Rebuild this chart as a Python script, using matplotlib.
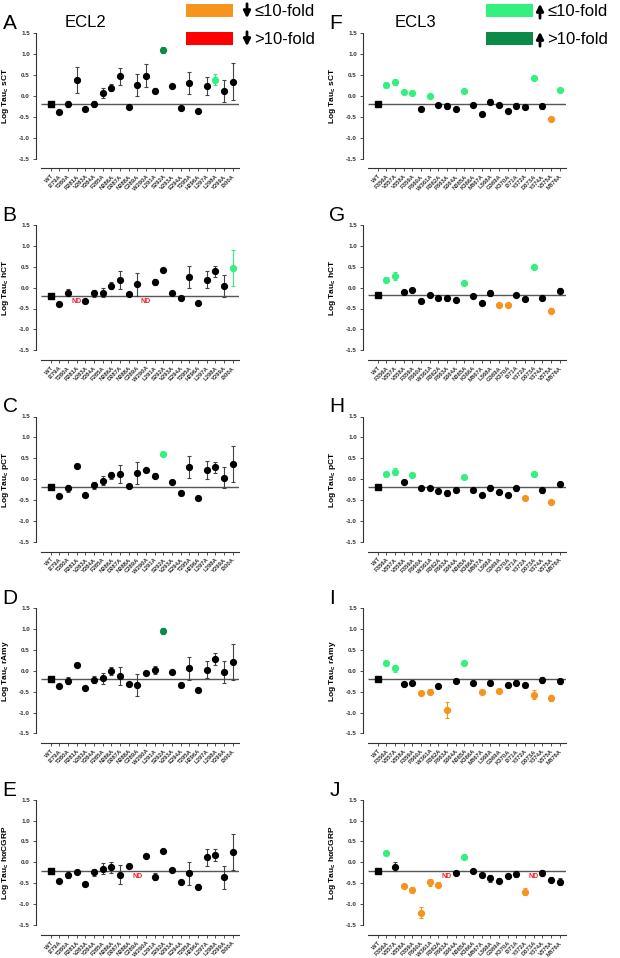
import matplotlib
matplotlib.use("Agg")
import matplotlib.pyplot as plt
from matplotlib.patches import Rectangle, FancyArrowPatch

plt.rcParams["font.family"] = ["Liberation Sans", "DejaVu Sans"]

# x categories
ecl2_labels = ["WT", "I279A", "T280A", "R281A", "V283A", "Y284A", "F285A", "N286A",
               "D287A", "N288A", "C289A", "W290A", "L291A", "S292A", "V293A", "E294A",
               "T295A", "H296A", "L297A", "L298A", "Y299A", "I300A"]
ecl3_labels = ["WT", "F356A", "V357A", "V358A", "F359A", "P360A", "W361A", "R362A",
               "P363A", "S364A", "N365A", "K366A", "M367A", "L368A", "G369A", "K370A",
               "I371A", "Y372A", "D373A", "Y374A", "V375A", "M376A"]

agonists = ["sCT", "hCT", "pCT", "rAmy", "h\u03b1CGRP"]

# log tau_c values (None = ND), SEM and fold-change class
# k = no change, u = up <=10-fold, U = up >10-fold, d = down <=10-fold, D = down >10-fold
a_vals = [-0.18, -0.38, -0.19, 0.38, -0.30, -0.20, 0.08, 0.20, 0.47, -0.26, 0.27,
          0.49, 0.13, 1.10, 0.24, -0.28, 0.31, -0.35, 0.24, 0.39, 0.12, 0.34]
a_errs = [0.03, 0.02, 0.08, 0.31, 0.02, 0.07, 0.12, 0.09, 0.20, 0.02, 0.26,
          0.27, 0.05, 0.08, 0.02, 0.02, 0.26, 0.02, 0.21, 0.13, 0.27, 0.44]
a_cls = "kkkkkkkkkkkkkUkkkkkukk"

b_vals = [-0.19, -0.40, -0.12, None, -0.33, -0.14, -0.12, 0.05, 0.18, -0.16, 0.08,
          None, 0.13, 0.41, -0.14, -0.24, 0.25, -0.36, 0.19, 0.39, 0.04, 0.48]
b_errs = [0.03, 0.02, 0.08, 0, 0.02, 0.08, 0.11, 0.09, 0.22, 0.02, 0.27,
          0, 0.07, 0.02, 0.02, 0.02, 0.26, 0.02, 0.21, 0.13, 0.27, 0.43]
b_cls = "kkkkkkkkkkkkkkkkkkkkku"

c_vals = [-0.18, -0.39, -0.22, 0.31, -0.38, -0.15, -0.04, 0.09, 0.12, -0.16, 0.15,
          0.22, 0.08, 0.60, -0.06, -0.33, 0.29, -0.44, 0.22, 0.28, 0.04, 0.37]
c_errs = [0.03, 0.02, 0.08, 0.02, 0.02, 0.09, 0.11, 0.09, 0.22, 0.02, 0.26,
          0.02, 0.06, 0.02, 0.02, 0.02, 0.26, 0.02, 0.21, 0.13, 0.26, 0.43]
c_cls = "kkkkkkkkkkkkkukkkkkkkk"

d_vals = [-0.19, -0.37, -0.24, 0.14, -0.40, -0.21, -0.18, 0.00, -0.12, -0.32, -0.34,
          -0.05, 0.02, 0.95, -0.04, -0.34, 0.06, -0.45, 0.03, 0.28, -0.03, 0.22]
d_errs = [0.03, 0.02, 0.08, 0.02, 0.02, 0.09, 0.13, 0.09, 0.22, 0.02, 0.27,
          0.02, 0.09, 0.07, 0.02, 0.02, 0.27, 0.04, 0.20, 0.15, 0.27, 0.43]
d_cls = "kkkkkkkkkkkkkUkkkkkkkk"

e_vals = [-0.20, -0.44, -0.29, -0.22, -0.51, -0.24, -0.15, -0.12, -0.29, -0.08, None,
          0.15, -0.34, 0.27, -0.19, -0.46, -0.26, -0.58, 0.12, 0.17, -0.36, 0.24]
e_errs = [0.03, 0.04, 0.08, 0.02, 0.05, 0.08, 0.13, 0.13, 0.23, 0.02, 0,
          0.02, 0.09, 0.02, 0.02, 0.05, 0.27, 0.06, 0.21, 0.14, 0.28, 0.43]
e_cls = "kkkkkkkkkkkkkkkkkkkkkk"

f_vals = [-0.19, 0.26, 0.33, 0.10, 0.06, -0.30, 0.01, -0.21, -0.23, -0.30, 0.12,
          -0.22, -0.42, -0.14, -0.22, -0.36, -0.23, -0.26, 0.43, -0.25, -0.54, 0.14]
f_errs = [0.03, 0.04, 0.07, 0.03, 0.03, 0.02, 0.03, 0.02, 0.07, 0.02, 0.04,
          0.02, 0.02, 0.06, 0.02, 0.02, 0.06, 0.02, 0.03, 0.06, 0.04, 0.04]
f_cls = "kuuuukukkkukkkkkkkukdu"

g_vals = [-0.18, 0.19, 0.28, -0.10, -0.05, -0.31, -0.18, -0.25, -0.26, -0.29, 0.11,
          -0.21, -0.37, -0.13, -0.41, -0.41, -0.18, -0.27, 0.50, -0.24, -0.55, -0.07]
g_errs = [0.03, 0.06, 0.09, 0.02, 0.02, 0.02, 0.02, 0.03, 0.07, 0.02, 0.04,
          0.02, 0.02, 0.07, 0.02, 0.02, 0.03, 0.02, 0.02, 0.06, 0.06, 0.05]
g_cls = "kuukkkkkkkukkkddkkukdk"

h_vals = [-0.18, 0.13, 0.18, -0.06, 0.11, -0.22, -0.20, -0.29, -0.33, -0.27, 0.06,
          -0.25, -0.37, -0.20, -0.31, -0.37, -0.22, -0.45, 0.12, -0.27, -0.54, -0.11]
h_errs = [0.03, 0.05, 0.08, 0.02, 0.02, 0.02, 0.02, 0.02, 0.06, 0.02, 0.02,
          0.02, 0.02, 0.05, 0.02, 0.02, 0.06, 0.02, 0.02, 0.05, 0.03, 0.05]
h_cls = "kuukukkkkkukkkkkkdukdk"

i_vals = [-0.19, 0.18, 0.06, -0.31, -0.30, -0.53, -0.50, -0.36, -0.94, -0.25, 0.19,
          -0.28, -0.51, -0.28, -0.48, -0.35, -0.29, -0.35, -0.57, -0.22, -0.65, -0.25]
i_errs = [0.03, 0.03, 0.09, 0.02, 0.02, 0.03, 0.06, 0.02, 0.20, 0.02, 0.03,
          0.02, 0.02, 0.07, 0.02, 0.02, 0.06, 0.02, 0.11, 0.07, 0.07, 0.06]
i_cls = "kuukkddkdkukdkdkkkdkdk"

j_vals = [-0.20, 0.22, -0.10, -0.57, -0.65, -1.20, -0.48, -0.53, None, -0.26, 0.12,
          -0.21, -0.29, -0.38, -0.44, -0.33, -0.28, -0.70, None, -0.26, -0.41, -0.46]
j_errs = [0.03, 0.03, 0.10, 0.03, 0.05, 0.14, 0.08, 0.07, 0, 0.03, 0.03,
          0.02, 0.04, 0.08, 0.06, 0.02, 0.08, 0.08, 0, 0.07, 0.06, 0.09]
j_cls = "kukddddddkukkkkkkdkkkk"

left_panels = [("A", a_vals, a_errs, a_cls), ("B", b_vals, b_errs, b_cls),
               ("C", c_vals, c_errs, c_cls), ("D", d_vals, d_errs, d_cls),
               ("E", e_vals, e_errs, e_cls)]
right_panels = [("F", f_vals, f_errs, f_cls), ("G", g_vals, g_errs, g_cls),
                ("H", h_vals, h_errs, h_cls), ("I", i_vals, i_errs, i_cls),
                ("J", j_vals, j_errs, j_cls)]

COLORS = {"k": "black", "u": "#33F07F", "U": "#0B8A48", "d": "#F7941D", "D": "#FF0000"}
ERR_COLORS = {"k": "#444444", "u": "#33F07F", "U": "#0B8A48", "d": "#F7941D", "D": "#FF0000"}

W, H = 620, 958
fig = plt.figure(figsize=(W / 100, H / 100), dpi=100)


def fx(x):
    return x / W


def fy(y):
    return 1 - y / H


XMIN, XMAX = -1.76, 21.75
YMIN, YMAX = -1.73, 1.6
PX_X = 8.66
PX_Y = 41.8


def draw_panel(letter, labels, agonist, vals, errs, cls, left_px, top_tick_px):
    w = (XMAX - XMIN) * PX_X
    h = (YMAX - YMIN) * PX_Y
    top = top_tick_px - (YMAX - 1.5) * PX_Y
    ax = fig.add_axes([fx(left_px), fy(top + h), w / W, h / H])
    ax.set_xlim(XMIN, XMAX)
    ax.set_ylim(YMIN, YMAX)

    ax.hlines(vals[0], -1.1, XMAX, color="#555555", lw=1.0, zorder=1)

    for i, (v, e, c) in enumerate(zip(vals, errs, cls)):
        if v is None:
            ax.text(i, -0.33, "ND", color="#E8202A", fontsize=5, fontweight="bold",
                    ha="center", va="center")
            continue
        if e > 0:
            ax.errorbar(i, v, yerr=e, fmt="none", ecolor=ERR_COLORS[c],
                        elinewidth=0.8, capsize=1.6, capthick=0.8, zorder=2)
        ax.plot(i, v, marker="s" if i == 0 else "o", ms=4.2, color=COLORS[c],
                mec=COLORS[c], zorder=3, linestyle="none")

    for s in ["top", "right"]:
        ax.spines[s].set_visible(False)
    ax.spines["left"].set_bounds(-1.5, 1.5)
    ax.spines["bottom"].set_bounds(-1.1, XMAX)
    for s in ["left", "bottom"]:
        ax.spines[s].set_linewidth(0.8)
        ax.spines[s].set_color("#333333")

    ax.set_yticks([1.5, 1.0, 0.5, 0.0, -0.5, -1.0, -1.5])
    ax.set_yticklabels(["1.5", "1.0", "0.5", "0.0", "-0.5", "-1.0", "-1.5"],
                       fontsize=4.5, fontweight="bold", color="#333333")
    ax.set_xticks(range(len(labels)))
    ax.set_xticklabels(labels, rotation=45, ha="right", rotation_mode="anchor",
                       fontsize=4.2, fontweight="bold", color="#333333")
    ax.tick_params(axis="both", length=2.5, width=0.6, color="#333333", pad=1.5)

    ax.set_ylabel("Log Tau$_\\mathregular{c}$ " + agonist, fontsize=6,
                  fontweight="bold", va="center")
    ax.yaxis.set_label_coords(-0.145, (0 - YMIN) / (YMAX - YMIN))

    fig.text(fx(left_px - 33), fy(top_tick_px - 4), letter, fontsize=15,
             ha="left", va="baseline")


for k in range(5):
    top_tick = 33.3 + 191.6 * k
    letter, vals, errs, cls = left_panels[k]
    draw_panel(letter, ecl2_labels, agonists[k], vals, errs, cls, 35.5, top_tick)
    letter, vals, errs, cls = right_panels[k]
    draw_panel(letter, ecl3_labels, agonists[k], vals, errs, cls, 362.5, top_tick)

fig.text(fx(85), fy(27), "ECL2", fontsize=12, ha="center", va="baseline")
fig.text(fx(415), fy(27), "ECL3", fontsize=12, ha="center", va="baseline")

# legend boxes with arrows
legend_items = [
    (186, 4, COLORS["d"], 247, "down", "\u226410-fold"),
    (186, 32, COLORS["D"], 247, "down", ">10-fold"),
    (486, 4, COLORS["u"], 540, "up", "\u226410-fold"),
    (486, 32, COLORS["U"], 540, "up", ">10-fold"),
]
for bx, by, col, ax_x, direction, label in legend_items:
    fig.add_artist(Rectangle((fx(bx), fy(by + 13)), 47 / W, 13 / H,
                             transform=fig.transFigure, facecolor=col,
                             edgecolor="none"))
    y0, y1 = (by - 3, by + 17) if direction == "down" else (by + 17, by - 3)
    fig.add_artist(FancyArrowPatch((fx(ax_x), fy(y0)), (fx(ax_x), fy(y1)),
                                   transform=fig.transFigure, arrowstyle="-|>",
                                   mutation_scale=10, lw=2.0, color="black"))
    fig.text(fx(ax_x + 7), fy(by + 7), label, fontsize=12, ha="left", va="center")

fig.savefig("out.png", dpi=100)
